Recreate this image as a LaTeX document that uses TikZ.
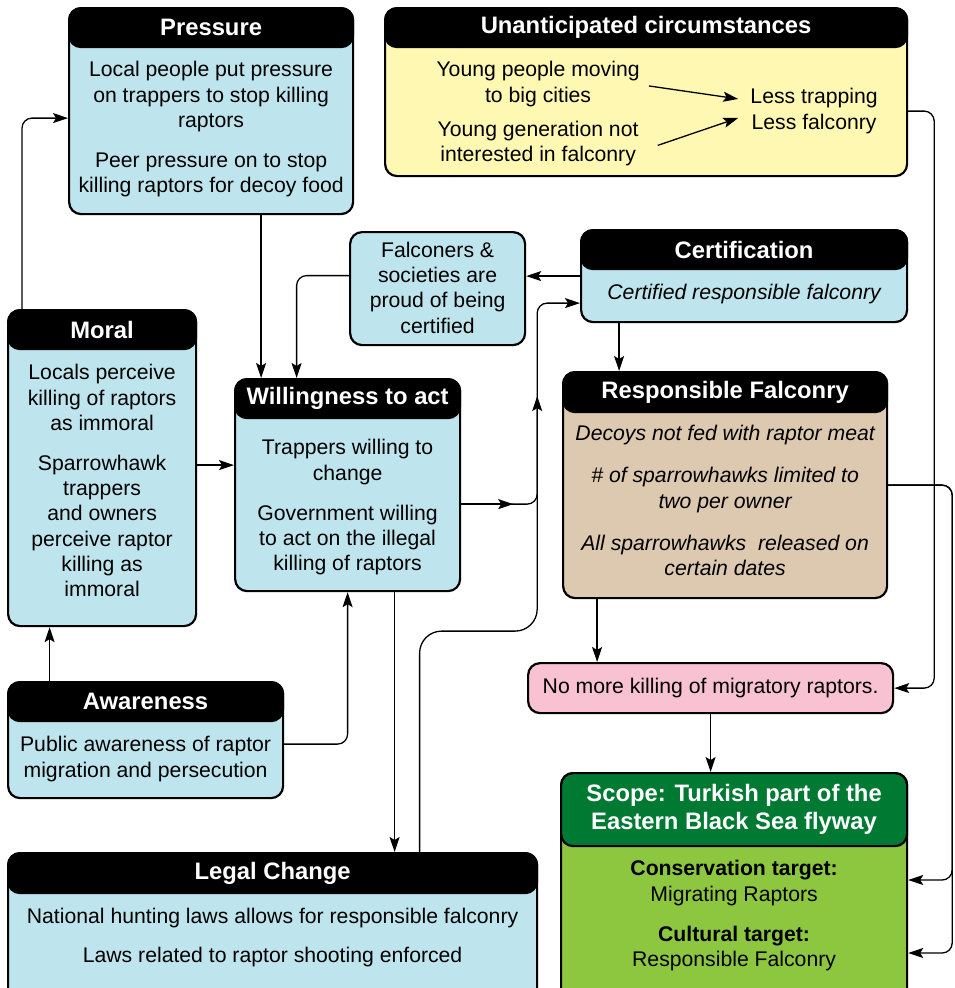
\documentclass[tikz,border=0pt]{standalone}
\usepackage{fontspec}
\setmainfont{Liberation Sans}
\usetikzlibrary{arrows.meta,positioning}

\definecolor{boxblue}{RGB}{190,229,238}
\definecolor{boxyellow}{RGB}{255,248,178}
\definecolor{boxtan}{RGB}{221,201,175}
\definecolor{boxpink}{RGB}{248,194,210}
\definecolor{scopedark}{RGB}{0,122,51}
\definecolor{scopelight}{RGB}{141,198,63}

\newcommand{\bodyfont}{\fontsize{21.2}{25.3}\selectfont}
\newcommand{\headfont}{\bfseries\fontsize{23.8}{28}\selectfont}

\tikzset{
  card/.style={draw, line width=2.2pt, rounded corners=12pt, anchor=north west, inner sep=0pt},
  cardhead/.style={draw, fill=black, line width=2.2pt, rounded corners=12pt, anchor=north, inner sep=0pt, text=white, font=\headfont},
  cardtext/.style={align=center, inner sep=0pt, font=\bodyfont},
  conn/.style={line width=1.3pt, rounded corners=10pt, -{Stealth[length=15pt,width=10pt,inset=3pt]}},
}

\begin{document}
\begin{tikzpicture}[x=1pt,y=-1pt]

\useasboundingbox (0,0) rectangle (954,988);
\clip (0,0) rectangle (954,988);

% Pressure
\node[card, fill=boxblue, minimum width=284pt, minimum height=206pt] (pres) at (68,7) {};
\node[cardhead, minimum width=284pt, minimum height=39pt] (pres-h) at (pres.north) {Pressure};
\node[cardtext, below=13pt of pres-h] (pres-t) {Local people put pressure\\ on trappers to stop killing\\ raptors\\[14.7pt] Peer pressure on to stop\\ killing raptors for decoy food};

% Unanticipated circumstances
\node[card, fill=boxyellow, minimum width=522pt, minimum height=168pt] (unant) at (384,7) {};
\node[cardhead, minimum width=522pt, minimum height=39pt] (unant-h) at (unant.north) {Unanticipated circumstances};
\node[cardtext, below=13pt of unant-h, xshift=-108pt] (unant-a) {Young people moving\\ to big cities};
\node[cardtext, below=14pt of unant-a] (unant-b) {Young generation not\\ interested in falconry};
\node[cardtext, below=40pt of unant-h, xshift=168pt] (unant-c) {Less trapping\\ Less falconry};

% Falconers
\node[card, fill=boxblue, minimum width=175pt, minimum height=113pt] (falc) at (349,231) {};
\node[cardtext] (falc-t) at ([yshift=1pt]falc.center) {Falconers \&\\ societies are\\ proud of being\\ certified};

% Certification
\node[card, fill=boxblue, minimum width=326pt, minimum height=92pt] (cert) at (580,229) {};
\node[cardhead, minimum width=326pt, minimum height=39pt] (cert-h) at (cert.north) {Certification};
\node[cardtext, below=14pt of cert-h, font=\bodyfont\itshape] (cert-t) {Certified responsible falconry};

% Moral
\node[card, fill=boxblue, minimum width=188pt, minimum height=316pt] (moral) at (7,309) {};
\node[cardhead, minimum width=188pt, minimum height=39pt] (moral-h) at (moral.north) {Moral};
\node[cardtext, below=14pt of moral-h] (moral-t) {Locals perceive\\ killing of raptors\\ as immoral\\[14.7pt] Sparrowhawk\\ trappers\\ and owners\\ perceive raptor\\ killing as\\ immoral};

% Willingness to act
\node[card, fill=boxblue, minimum width=225pt, minimum height=212pt] (will) at (234,378) {};
\node[cardhead, minimum width=225pt, minimum height=39pt] (will-h) at (will.north) {Willingness to act};
\node[cardtext, below=20pt of will-h] (will-t) {Trappers willing to\\ change\\[14.7pt] Government willing\\ to act on the illegal\\ killing of raptors};

% Responsible falconry
\node[card, fill=boxtan, minimum width=324pt, minimum height=226pt] (resp) at (562,371) {};
\node[cardhead, minimum width=324pt, minimum height=40pt] (resp-h) at (resp.north) {Responsible Falconry};
\node[cardtext, below=12pt of resp-h, font=\bodyfont\itshape] (resp-t) {Decoys not fed with raptor meat\\[16.7pt] \# of sparrowhawks limited to\\ two per owner\\[16.7pt] All sparrowhawks\ \ released on\\ certain dates};

% No more killing
\node[card, fill=boxpink, minimum width=365pt, minimum height=50pt, font=\bodyfont] (nokill) at (527,662) {No more killing of migratory raptors.};

% Awareness
\node[card, fill=boxblue, minimum width=275pt, minimum height=116pt] (aware) at (7,681) {};
\node[cardhead, minimum width=275pt, minimum height=39pt] (aware-h) at (aware.north) {Awareness};
\node[cardtext, below=14pt of aware-h] (aware-t) {Public awareness of raptor\\ migration and persecution};

% Legal change
\node[card, fill=boxblue, minimum width=529pt, minimum height=160pt] (legal) at (7,852) {};
\node[cardhead, minimum width=529pt, minimum height=40pt] (legal-h) at (legal.north) {Legal Change};
\node[cardtext, below=14pt of legal-h] (legal-t) {National hunting laws allows for responsible falconry\\[13.7pt] Laws related to raptor shooting enforced};

% Scope
\node[card, fill=scopelight, minimum width=346pt, minimum height=240pt] (scope) at (560,772) {};
\node[cardhead, fill=scopedark, minimum width=346pt, minimum height=73pt, align=center] (scope-h) at (scope.north) {Scope: Turkish part of the\\ Eastern Black Sea flyway};
\node[cardtext, below=13pt of scope-h] (scope-t) {\textbf{Conservation target:}\\ Migrating Raptors\\[15pt] \textbf{Cultural target:}\\ Responsible Falconry};

% connectors
\draw[conn] ([xshift=15pt]moral.north west) |- ([yshift=-7pt]pres.west);
\draw[conn] ([xshift=50pt]pres.south) -- ([xshift=50pt]pres.south |- will.north);
\draw[conn] ([yshift=13pt]falc.west) -| ([xshift=-51pt]will.north);
\draw[conn] (cert.west) -- (cert.west -| falc.east);
\draw[conn] ([xshift=-125pt]cert.south) -- ([xshift=-125pt]cert.south |- resp.north);
\draw[conn] ([yshift=3pt]moral.east) -- ([yshift=3pt]moral.east -| will.west);

\coordinate (junc) at ([xshift=76pt,yshift=-19pt]will.east);
\draw[conn] ([yshift=-19pt]will.east) -- (junc) |- ([yshift=-27pt]cert.west);
\draw[conn] ([yshift=-19pt]will.east) -- ([xshift=-24pt]junc);
\draw[conn, rounded corners=22pt] ([xshift=147pt]legal.north) |- ([yshift=-127pt]junc) -- ([yshift=108pt]junc);

\draw[conn] ([xshift=47pt]will.south) -- ([xshift=47pt]will.south |- legal.north);
\draw[conn] ([yshift=-4pt]aware.east) -| (will.south);
\draw[conn] ([xshift=-96pt]aware.north) -- ([xshift=-96pt]aware.north |- moral.south);

\draw[conn] ([yshift=-19pt]unant.east) -- ++(26,0) |- (nokill.east);
\draw[conn] (resp.east) -- ++(64,0) |- ([yshift=-108pt]scope.north east);
\draw[conn] (resp.east) -- ++(64,0) |- ([yshift=-181pt]scope.north east);
\draw[conn] ([xshift=-128pt]resp.south) -- ([xshift=-128pt]resp.south |- nokill.north);
\draw[conn] (nokill.south) -- (nokill.south |- scope.north);

\draw[conn] ([xshift=9pt,yshift=-2pt]unant-a.east) -- ([xshift=-12pt,yshift=12pt]unant-c.west);
\draw[conn] ([xshift=19pt,yshift=-2pt]unant-b.east) -- ([xshift=-12pt,yshift=-7pt]unant-c.west);

\end{tikzpicture}
\end{document}
